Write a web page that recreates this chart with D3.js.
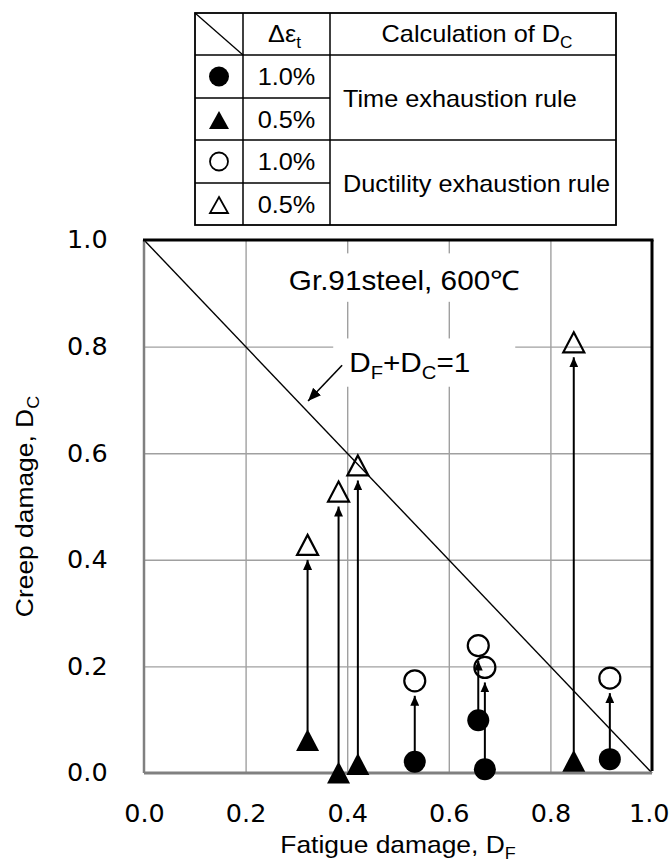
<!DOCTYPE html>
<html>
<head>
<meta charset="utf-8">
<script src="https://cdn.jsdelivr.net/npm/d3@7"></script>
<style>
  body { margin: 0; background: #fff; }
  svg { display: block; }
</style>
</head>
<body>
<div id="chart"></div>
<script>
var svgWidth = 670;
var svgHeight = 867;

// plot frame in page pixels
var plot = { left: 144, right: 652, top: 240, bottom: 773 };

// ---- data ----
var tickValues = [0.0, 0.2, 0.4, 0.6, 0.8, 1.0];
var strainRanges = ["1.0%", "0.5%"];
var ruleNames = ["Time exhaustion rule", "Ductility exhaustion rule"];

// 1.0% strain range (circles)
var circleDF = [0.533, 0.658, 0.671, 0.917];
var circleDcTime = [0.021, 0.099, 0.007, 0.026];
var circleDcDuct = [0.173, 0.239, 0.198, 0.178];

// 0.5% strain range (triangles)
var triDF = [0.322, 0.383, 0.421, 0.846];
var triDcTime = [0.062, 0.001, 0.017, 0.023];
var triDcDuct = [0.428, 0.528, 0.577, 0.808];

var sans = "'Liberation Sans', Arial, sans-serif";
var stretch = 1.1;

var svg = d3.select("#chart")
  .append("svg")
  .attr("width", svgWidth)
  .attr("height", svgHeight);

var defs = svg.append("defs");
defs.append("marker")
  .attr("id", "head")
  .attr("markerUnits", "userSpaceOnUse")
  .attr("markerWidth", 10).attr("markerHeight", 9)
  .attr("refX", 10).attr("refY", 4.5)
  .attr("orient", "auto")
  .append("path").attr("d", "M0,0L10,4.5L0,9Z").attr("fill", "#000");
defs.append("marker")
  .attr("id", "bighead")
  .attr("markerUnits", "userSpaceOnUse")
  .attr("markerWidth", 13).attr("markerHeight", 11)
  .attr("refX", 13).attr("refY", 5.5)
  .attr("orient", "auto")
  .append("path").attr("d", "M0,0L13,5.5L0,11Z").attr("fill", "#000");

// text helper: slightly wide lettering like the original
function addText(g, x, y, size, anchor, rot) {
  var tr = `translate(${x},${y})` + (rot ? ` rotate(${rot})` : "") + ` scale(${stretch},1)`;
  return g.append("text")
    .attr("transform", tr)
    .attr("font-family", sans)
    .attr("font-size", size)
    .attr("text-anchor", anchor || "start")
    .attr("fill", "#000");
}
// parts: [text, isSub]
function richText(t, parts, size) {
  var shift = size * 0.25, down = false;
  parts.forEach(function(p) {
    var s = t.append("tspan").text(p[0]);
    if (p[1]) {
      s.attr("font-size", size * 0.68);
      if (!down) { s.attr("dy", shift); down = true; }
    } else if (down) {
      s.attr("dy", -shift); down = false;
    }
  });
  return t;
}

function triPath(w, h) {
  return `M0,${-h / 2}L${w / 2},${h / 2}L${-w / 2},${h / 2}Z`;
}

// ---- scales ----
var x = d3.scaleLinear().domain([0, 1]).range([plot.left, plot.right]);
var y = d3.scaleLinear().domain([0, 1]).range([plot.bottom, plot.top]);

// gridlines
var grid = svg.append("g");
grid.append("g")
  .attr("transform", `translate(0,${plot.bottom})`)
  .call(d3.axisBottom(x).tickValues(tickValues.slice(1, -1)).tickSize(-(plot.bottom - plot.top)).tickFormat(""))
  .call(g => g.select(".domain").remove())
  .call(g => g.selectAll("line").attr("stroke", "#a0a0a0").attr("stroke-width", 1.4));
grid.append("g")
  .attr("transform", `translate(${plot.left},0)`)
  .call(d3.axisLeft(y).tickValues(tickValues.slice(1, -1)).tickSize(-(plot.right - plot.left)).tickFormat(""))
  .call(g => g.select(".domain").remove())
  .call(g => g.selectAll("line").attr("stroke", "#a0a0a0").attr("stroke-width", 1.4));

// axis tick labels
var fmt = d3.format(".1f");
var tickScale = 1.04;
svg.append("g")
  .attr("transform", `translate(0,${plot.bottom})`)
  .call(d3.axisBottom(x).tickValues(tickValues).tickSize(0).tickPadding(32).tickFormat(fmt))
  .call(g => g.select(".domain").remove())
  .call(g => g.selectAll("text")
    .attr("font-family", "'DejaVu Sans', Verdana, sans-serif")
    .attr("font-size", 24.5).attr("fill", "#000")
    .attr("transform", `scale(${tickScale},1)`))
  // last label sits against the page edge
  .call(g => g.selectAll("text").filter(d => d === 1)
    .attr("text-anchor", "end").attr("x", (svgWidth - plot.right - 1) / tickScale));
svg.append("g")
  .attr("transform", `translate(${plot.left},0)`)
  .call(d3.axisLeft(y).tickValues(tickValues).tickSize(0).tickPadding(35).tickFormat(fmt))
  .call(g => g.select(".domain").remove())
  .call(g => g.selectAll("text")
    .attr("font-family", "'DejaVu Sans', Verdana, sans-serif")
    .attr("font-size", 24.5).attr("fill", "#000")
    .attr("transform", `scale(${tickScale},1)`));

// axis titles
richText(addText(svg, (plot.left + plot.right) / 2, 853, 24, "middle"),
  [["Fatigue damage,  D", false], ["F", true]], 24);
richText(addText(svg, 33, (plot.top + plot.bottom) / 2, 24, "middle", -90),
  [["Creep damage,  D", false], ["C", true]], 24);

// annotation labels with white boxes
var ann = svg.append("g");
function boxedLabel(dx, dy, parts, pad) {
  var t = richText(addText(ann, x(dx), y(dy), 27, "start"), parts, 27);
  var b = t.node().getBBox();
  ann.insert("rect", "text")
    .attr("x", x(dx) - pad[0])
    .attr("y", y(dy) + b.y - pad[1])
    .attr("width", b.width * stretch + pad[0] + pad[2])
    .attr("height", b.height + pad[1] + pad[3])
    .attr("fill", "#fff");
}
boxedLabel(0.285, 0.906, [["Gr.91steel, 600\u2103", false]], [9, 12, 8, 6]);
boxedLabel(0.404, 0.752, [["D", false], ["F", true], ["+D", false], ["C", true], ["=1", false]], [16, 9, 45, 4]);

// D_F + D_C = 1 line
svg.append("line")
  .attr("x1", x(0)).attr("y1", y(1))
  .attr("x2", x(1)).attr("y2", y(0))
  .attr("stroke", "#000").attr("stroke-width", 1.4);

// annotation arrow
svg.append("line")
  .attr("x1", x(0.39)).attr("y1", y(0.765))
  .attr("x2", x(0.323)).attr("y2", y(0.698))
  .attr("stroke", "#000").attr("stroke-width", 1.6)
  .attr("marker-end", "url(#bighead)");

// frame
var frame = svg.append("g");
frame.append("line").attr("x1", plot.left).attr("x2", plot.left).attr("y1", plot.top).attr("y2", plot.bottom)
  .attr("stroke", "#808080").attr("stroke-width", 2.5);
frame.append("line").attr("x1", plot.left).attr("x2", plot.right).attr("y1", plot.bottom).attr("y2", plot.bottom)
  .attr("stroke", "#808080").attr("stroke-width", 3);
frame.append("line").attr("x1", plot.left - 1).attr("x2", plot.right + 1.5).attr("y1", plot.top).attr("y2", plot.top)
  .attr("stroke", "#000").attr("stroke-width", 3);
frame.append("line").attr("x1", plot.right).attr("x2", plot.right).attr("y1", plot.top).attr("y2", plot.bottom - 2)
  .attr("stroke", "#000").attr("stroke-width", 3);

// ---- data points ----
var pairs = [];
circleDF.forEach(function(d, i) {
  pairs.push({ shape: "circle", df: d, t: circleDcTime[i], u: circleDcDuct[i] });
});
triDF.forEach(function(d, i) {
  pairs.push({ shape: "tri", df: d, t: triDcTime[i], u: triDcDuct[i] });
});

var R = 11, TW = 23, TH = 22;
var marks = svg.append("g");

// arrows from time-exhaustion value up to ductility-exhaustion value
marks.selectAll("line.arrow")
  .data(pairs)
  .enter().append("line")
  .attr("class", "arrow")
  .attr("x1", d => x(d.df)).attr("x2", d => x(d.df))
  .attr("y1", d => y(d.t) - (d.shape === "circle" ? R : TH / 2) + 2)
  .attr("y2", d => y(d.u) + (d.shape === "circle" ? R : TH / 2) + 4)
  .attr("stroke", "#000").attr("stroke-width", 2)
  .attr("marker-end", "url(#head)");

function drawMark(sel, key, filled) {
  sel.each(function(d) {
    var g = d3.select(this);
    var cx = x(d.df), cy = y(d[key]);
    var m;
    if (d.shape === "circle") {
      m = g.append("circle").attr("cx", cx).attr("cy", cy).attr("r", filled ? R : R - 0.5);
    } else {
      m = g.append("path").attr("d", triPath(TW - (filled ? 0 : 2), TH - (filled ? 0 : 2)))
        .attr("transform", `translate(${cx},${cy})`);
    }
    if (filled) m.attr("fill", "#000");
    else m.attr("fill", "none").attr("stroke", "#000").attr("stroke-width", 2.2);
  });
}
marks.selectAll("g.open").data(pairs).enter().append("g").attr("class", "open").call(drawMark, "u", false);
marks.selectAll("g.filled").data(pairs).enter().append("g").attr("class", "filled").call(drawMark, "t", true);

// ---- legend table ----
var cols = [195, 243, 330, 616];
var rows = [13, 55, 98, 140, 183, 225];
var tbl = svg.append("g");
var legendRows = [
  { shape: "circle", filled: true, strain: strainRanges[0] },
  { shape: "tri", filled: true, strain: strainRanges[1] },
  { shape: "circle", filled: false, strain: strainRanges[0] },
  { shape: "tri", filled: false, strain: strainRanges[1] }
];

function hline(x1, x2, yy, w) {
  tbl.append("line").attr("x1", x1).attr("x2", x2).attr("y1", yy).attr("y2", yy)
    .attr("stroke", "#000").attr("stroke-width", w);
}
function vline(xx, y1, y2, w) {
  tbl.append("line").attr("x1", xx).attr("x2", xx).attr("y1", y1).attr("y2", y2)
    .attr("stroke", "#000").attr("stroke-width", w);
}
tbl.append("rect").attr("x", cols[0]).attr("y", rows[0])
  .attr("width", cols[3] - cols[0]).attr("height", rows[5] - rows[0])
  .attr("fill", "#fff").attr("stroke", "#000").attr("stroke-width", 1.8);
vline(cols[1], rows[0], rows[5], 1.5);
vline(cols[2], rows[0], rows[5], 1.5);
hline(cols[0], cols[3], rows[1], 1.5);
hline(cols[0], cols[3], rows[3], 1.5);
hline(cols[0], cols[2], rows[2], 1.5);
hline(cols[0], cols[2], rows[4], 1.5);
tbl.append("line").attr("x1", cols[0]).attr("y1", rows[0]).attr("x2", cols[1]).attr("y2", rows[1])
  .attr("stroke", "#000").attr("stroke-width", 1.3);

richText(addText(tbl, (cols[1] + cols[2]) / 2 - 2, 42, 23, "middle"), [["\u0394\u03b5", false], ["t", true]], 23);
richText(addText(tbl, (cols[2] + cols[3]) / 2 + 4, 42, 23, "middle"), [["Calculation of D", false], ["C", true]], 23);

legendRows.forEach(function(r, i) {
  var cy = (rows[i + 1] + rows[i + 2]) / 2;
  var cx = (cols[0] + cols[1]) / 2;
  var m;
  if (r.shape === "circle") {
    m = tbl.append("circle").attr("cx", cx).attr("cy", cy).attr("r", r.filled ? 10 : 9);
  } else {
    m = tbl.append("path").attr("d", triPath(r.filled ? 20 : 18, r.filled ? 18 : 16))
      .attr("transform", `translate(${cx},${cy + 1})`);
  }
  if (r.filled) m.attr("fill", "#000");
  else m.attr("fill", "none").attr("stroke", "#000").attr("stroke-width", 1.8);
  addText(tbl, (cols[1] + cols[2]) / 2, cy + 8.5, 23, "middle").text(r.strain);
});
addText(tbl, 343, rows[2] + 8.5, 23, "start").text(ruleNames[0]);
addText(tbl, 343, rows[4] + 8.5, 23, "start").text(ruleNames[1]);
</script>
</body>
</html>
